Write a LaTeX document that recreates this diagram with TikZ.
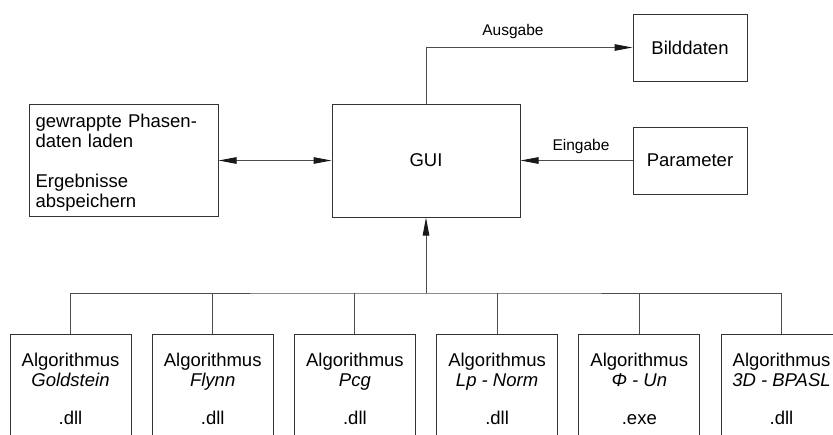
\documentclass[tikz,border=0pt]{standalone}
\usepackage{fontspec}
\setmainfont{Liberation Sans}
\usetikzlibrary{arrows.meta,positioning}
\begin{document}
\begin{tikzpicture}[x=1pt,y=-1pt,
  box/.style={draw=black!80,line width=1pt,inner sep=0pt},
  txt/.style={font=\fontsize{18.5}{20}\selectfont,inner sep=0pt},
  lbl/.style={font=\fontsize{15.5}{18}\selectfont,inner sep=0pt},
  conn/.style={draw=black!70,line width=1pt},
  tip/.style={-{Triangle[length=18pt,width=6.5pt,color=black!90]}},
  dtip/.style={{Triangle[length=18pt,width=6.5pt,color=black!90]}-{Triangle[length=18pt,width=6.5pt,color=black!90]}},
  algbox/.style={box,minimum width=121pt,minimum height=130pt,anchor=north},
  algtxt/.style={txt,align=center,anchor=north}]
\useasboundingbox (0,0) rectangle (833,434);
\clip (0,0) rectangle (833,434);
% main boxes
\node[box,minimum width=189pt,minimum height=112pt] (load) at (123.5,160.5) {};
\node[txt,align=left,text width=177pt] (loadtxt) at (124,163)
  {gewrappte Phasen-\\daten laden\\[20pt]Ergebnisse\\abspeichern};
\node[box,minimum width=188pt,minimum height=113pt] (gui) at (426,160.5) {};
\node[txt] (guitxt) at (426,160) {GUI};
\node[box,minimum width=114pt,minimum height=67pt] (bild) at (690,47.5) {};
\node[txt] (bildtxt) at (690,47.5) {Bilddaten};
\node[box,minimum width=114pt,minimum height=67pt] (param) at (690,160.5) {};
\node[txt] (paramtxt) at (690,160.5) {Parameter};
% labels
\node[lbl] (ausg) at (513,31) {Ausgabe};
\node[lbl] (eing) at (581,146) {Eingabe};
% algorithm boxes
\foreach \i/\nm/\ext in {0/Goldstein/dll,1/Flynn/dll,2/Pcg/dll,3/Lp - Norm/dll,4/Φ - Un/exe,5/3D - BPASL/dll}{
  \pgfmathsetmacro{\cx}{70.5+142.2*\i}
  \node[algbox] (a\i) at (\cx,334) {};
  \node[algtxt] (t\i) at (\cx,353) {Algorithmus\\\textit{\nm}\\[18pt].\ext};
}
% connectors
\draw[conn,dtip] (load.east) -- (gui.west);
\draw[conn,tip] (gui.north) |- (bild.west);
\draw[conn,tip] (param.west) -- (gui.east);
\coordinate (bus) at (426,293);
\draw[conn] (a0.north) |- (bus) -| (a5.north);
\foreach \i in {1,2,3,4}{
  \draw[conn] (a\i.north) -- (a\i.north |- bus);
}
\draw[conn,tip] (bus) -- (gui.south);
\end{tikzpicture}
\end{document}
